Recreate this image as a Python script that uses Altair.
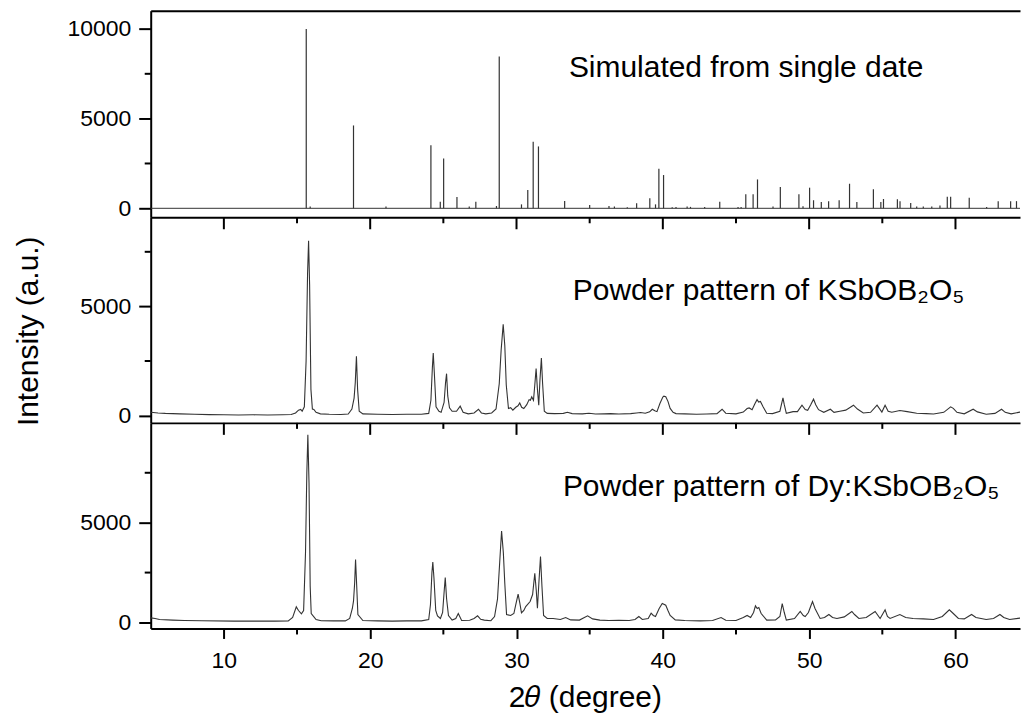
import altair as alt
import pandas as pd

# ---------------- data ----------------
# Simulated pattern: peak positions (2theta) and intensities
sim_pos = [15.63, 15.9, 18.86, 21.08, 24.15, 24.79, 25.02, 25.93, 26.77, 27.22, 28.63, 28.82,
           30.34, 30.77, 31.14, 31.50, 33.29, 35.0, 36.32, 36.69, 37.57, 38.21, 39.11, 39.50,
           39.73, 40.05, 40.64, 40.9, 41.66, 41.89, 42.86, 43.89, 45.14, 45.35, 45.67, 46.17,
           46.47, 47.53, 48.03, 49.3, 49.58, 50.03, 50.30, 50.83, 51.33, 52.05, 52.76, 53.26,
           54.39, 54.90, 55.08, 56.03, 56.21, 56.94, 57.35, 57.80, 58.38, 58.94, 59.44, 59.67,
           60.94, 62.13, 62.92, 63.77, 64.17]
sim_int = [10000, 100, 4620, 100, 3520, 370, 2780, 630, 100, 370, 130, 8470,
           220, 1020, 3710, 3450, 410, 185, 130, 100, 60, 280, 556, 220,
           2210, 1855, 60, 80, 100, 80, 80, 370, 80, 80, 780, 780,
           1610, 100, 1190, 780, 120, 1150, 450, 350, 400, 450, 1370, 350,
           1060, 350, 520, 500, 400, 300, 100, 100, 100, 150, 650, 650,
           590, 80, 400, 400, 400]

# Powder pattern of KSbOB2O5
ksb_x = [5.0, 5.5, 6.0, 7.0, 8.0, 9.0, 10.0, 11.0, 12.0, 13.0, 14.0, 14.6, 14.9, 15.1, 15.25, 15.35,
         15.5, 15.62, 15.72, 15.79, 15.86, 15.95, 16.05, 16.15, 16.3, 16.6, 17.2, 18.0, 18.5, 18.75,
         18.9, 18.98, 19.06, 19.14, 19.25, 19.5, 20.5, 21.5, 22.5, 23.5, 24.0, 24.15, 24.25, 24.31,
         24.38, 24.5, 24.7, 24.85, 25.05, 25.15, 25.22, 25.3, 25.42, 25.6, 25.9, 26.15, 26.35, 26.7,
         27.1, 27.4, 27.6, 27.9, 28.3, 28.6, 28.82, 28.95, 29.09, 29.2, 29.3, 29.45, 29.6, 29.75,
         29.95, 30.1, 30.22, 30.35, 30.5, 30.7, 30.86, 30.95, 31.04, 31.16, 31.25, 31.34, 31.43,
         31.52, 31.6, 31.7, 31.78, 31.9, 32.1, 32.6, 33.2, 33.48, 33.8, 34.5, 34.95, 35.4, 36.0,
         36.43, 37.0, 37.8, 38.2, 38.48, 38.8, 39.1, 39.28, 39.45, 39.6, 39.8, 40.0, 40.07, 40.2,
         40.35, 40.5, 40.7, 40.9, 41.5, 42.3, 43.0, 43.7, 44.05, 44.3, 45.0, 45.5, 45.76, 45.9,
         46.1, 46.3, 46.44, 46.55, 46.67, 46.85, 47.1, 47.5, 48.0, 48.21, 48.3, 48.44, 48.9, 49.2,
         49.51, 49.73, 49.9, 50.1, 50.3, 50.45, 50.64, 51.0, 51.45, 51.7, 52.1, 52.5, 53.03, 53.3,
         53.7, 54.2, 54.64, 54.97, 55.19, 55.4, 55.65, 56.2, 56.7, 57.35, 58.0, 58.5, 59.2, 59.67,
         59.85, 60.1, 60.6, 61.21, 61.5, 62.1, 62.7, 63.15, 63.4, 63.8, 64.4, 64.5]
ksb_y = [155, 120, 100, 80, 60, 45, 35, 30, 35, 30, 40, 50, 120, 250, 280, 200,
         400, 2500, 6500, 8000, 6000, 1200, 300, 280, 150, 80, 60, 50, 70, 300,
         800, 1500, 2714, 1200, 200, 80, 60, 50, 60, 60, 100, 700, 2200, 2865,
         2000, 400, 200, 150, 600, 1500, 1920, 900, 360, 200, 200, 430, 150, 80,
         120, 290, 120, 80, 120, 300, 1460, 3000, 4177, 3200, 1400, 320, 360, 250,
         380, 450, 580, 380, 320, 500, 730, 700, 855, 700, 1400, 2150, 1200,
         475, 1600, 2637, 1500, 200, 100, 90, 100, 150, 90, 80, 110, 70, 80,
         90, 70, 90, 120, 140, 110, 170, 290, 220, 180, 550, 850, 890, 865,
         650, 330, 150, 90, 80, 60, 70, 90, 290, 110, 80, 160, 320, 350,
         270, 550, 730, 620, 650, 400, 110, 90, 200, 810, 500, 100, 180, 180,
         475, 280, 240, 480, 750, 500, 270, 150, 290, 150, 200, 250, 475, 300,
         120, 150, 475, 160, 475, 200, 150, 230, 180, 110, 90, 70, 150, 400,
         330, 150, 80, 290, 170, 60, 100, 290, 150, 80, 160, 170]

# Powder pattern of Dy:KSbOB2O5
dy_x = [5.0, 5.3, 5.6, 6.5, 7.3, 8.5, 10.7, 12.0, 13.5, 14.4, 14.7, 14.95, 15.1, 15.3, 15.45,
        15.58, 15.67, 15.74, 15.82, 15.9, 15.97, 16.1, 16.3, 16.65, 17.5, 18.3, 18.6, 18.78,
        18.86, 18.94, 19.0, 19.08, 19.16, 19.5, 20.5, 21.5, 22.5, 23.5, 24.0, 24.12, 24.22,
        24.28, 24.36, 24.48, 24.6, 24.8, 24.95, 25.06, 25.13, 25.22, 25.35, 25.6, 25.85, 26.02,
        26.25, 26.8, 27.1, 27.34, 27.55, 27.8, 28.25, 28.5, 28.7, 28.85, 28.98, 29.1, 29.2,
        29.32, 29.6, 29.82, 29.95, 30.11, 30.22, 30.34, 30.5, 30.63, 30.93, 31.1, 31.25, 31.35,
        31.43, 31.53, 31.64, 31.74, 31.85, 32.1, 32.5, 33.0, 33.36, 33.7, 34.3, 34.86, 35.2,
        35.7, 36.3, 37.0, 37.7, 38.1, 38.36, 38.6, 39.0, 39.2, 39.35, 39.5, 39.75, 39.96, 40.2,
        40.35, 40.5, 40.85, 41.5, 42.56, 43.4, 43.98, 44.3, 45.0, 45.5, 45.76, 46.0, 46.2,
        46.33, 46.45, 46.56, 46.72, 47.1, 47.7, 48.0, 48.16, 48.3, 48.44, 49.0, 49.39, 49.6,
        49.73, 49.95, 50.1, 50.23, 50.4, 50.75, 51.05, 51.35, 51.6, 51.9, 52.4, 52.92, 53.1,
        53.4, 53.9, 54.51, 54.85, 55.19, 55.35, 55.53, 56.2, 56.6, 57.1, 57.8, 58.5, 59.1,
        59.58, 59.85, 60.2, 60.6, 61.1, 61.4, 62.1, 62.6, 63.04, 63.3, 63.7, 64.4, 64.5]
dy_y = [233, 200, 150, 120, 100, 85, 70, 70, 70, 80, 250, 783, 600, 433, 600,
        3500, 7500, 9400, 7000, 1800, 450, 327, 150, 90, 80, 80, 200, 700,
        1067, 2000, 3150, 1800, 400, 100, 80, 70, 80, 80, 150, 900, 2500,
        3033, 2200, 600, 333, 200, 500, 1600, 2250, 1200, 350, 120, 200, 450,
        100, 110, 200, 333, 160, 120, 90, 300, 1167, 3000, 4583, 3500, 1950,
        400, 350, 450, 900, 1417, 1000, 483, 600, 800, 1050, 1400, 2467, 1600,
        717, 2000, 3300, 1800, 350, 200, 200, 150, 250, 130, 120, 333, 180,
        120, 100, 110, 100, 150, 300, 150, 200, 467, 350, 300, 700, 950, 867,
        600, 350, 130, 100, 80, 100, 250, 110, 100, 250, 350, 250, 500,
        833, 700, 750, 450, 120, 130, 300, 950, 500, 120, 200, 550, 350,
        300, 500, 800, 1050, 700, 200, 250, 400, 250, 200, 280, 550, 400,
        200, 250, 550, 200, 633, 300, 200, 400, 250, 200, 180, 150, 300,
        633, 450, 200, 180, 400, 250, 150, 200, 400, 250, 150, 220, 230]

panel_labels = ["Simulated from single date",
                "Powder pattern of KSbOB\u2082O\u2085",
                "Powder pattern of Dy:KSbOB\u2082O\u2085"]
label_x = [33.58, 33.85, 33.17]
label_y = [7347, 5288, 6350]

x_major = [10, 20, 30, 40, 50, 60]
x_minor = [15, 25, 35, 45, 55]
y_major_top = [0, 5000, 10000]
y_major = [0, 5000]
y_minor = [2500, 7500]

# ---------------- styling ----------------
FONT = "Liberation Sans"
LINE = "#333333"
W = 871
H1, H2, H3 = 207, 206, 206
X_DOMAIN = [5, 64.41]
xscale = alt.Scale(domain=X_DOMAIN, nice=False, zero=False)

# inner panel edges: domain line only; their ticks are drawn inside the panel below
x_axis_inner = alt.Axis(values=x_major, ticks=False, labels=False, title=None)
x_axis_bottom = alt.Axis(
    values=x_major, tickSize=10, format="d", labelPadding=11, labelOverlap=False,
    title="2\U0001D703 (degree)", titleX=435, titleY=69,
    titleAlign="center", titleBaseline="middle")
x_axis_top = alt.Axis(orient="top", ticks=False, labels=False, title=None, domain=True)


def y_axis(values, title=None, **kw):
    return alt.Axis(values=values, format="d", tickSize=12, title=title, **kw)


y_axis1 = y_axis(y_major_top)
y_axis2 = y_axis(y_major, title="Intensity (a.u.)", titleX=-122.5, titleY=113.7,
                 titleAngle=270, titleAlign="center", titleBaseline="middle")
y_axis3 = y_axis(y_major)

sim_df = pd.DataFrame({"x": sim_pos, "y": sim_int})
ksb_df = pd.DataFrame({"x": ksb_x, "y": ksb_y})
dy_df = pd.DataFrame({"x": dy_x, "y": dy_y})
zero_df = pd.DataFrame({"y": [0]})
xmajor_df = pd.DataFrame({"x": x_major})
xminor_df = pd.DataFrame({"x": x_minor})
yminor_df = pd.DataFrame({"y": y_minor})


def label_df(i):
    return pd.DataFrame({"x": [label_x[i]], "y": [label_y[i]], "t": [panel_labels[i]]})


def text_layer(i, yscale, xaxis, yaxis):
    return alt.Chart(label_df(i)).mark_text(
        align="left", baseline="alphabetic", font=FONT, fontSize=30, color="black"
    ).encode(
        x=alt.X("x:Q", scale=xscale, axis=xaxis),
        y=alt.Y("y:Q", scale=yscale, axis=yaxis),
        text="t:N",
    )


def x_ticks_rule(df, y0, y1, xaxis):
    # short vertical tick marks at the given x positions
    return alt.Chart(df).mark_rule(color="black", strokeWidth=2).encode(
        x=alt.X("x:Q", scale=xscale, axis=xaxis),
        y=alt.value(y0), y2=alt.value(y1),
    )


def minor_y(yscale, yaxis):
    # short ticks at the minor y positions, left of the panel
    return alt.Chart(yminor_df).mark_rule(color="black", strokeWidth=2).encode(
        y=alt.Y("y:Q", scale=yscale, axis=yaxis),
        x=alt.value(-6), x2=alt.value(0),
    )


# Panel 1: simulated sticks (x axes resolved independently: bottom edge + top border)
ys1 = alt.Scale(domain=[-500, 11020], nice=False, zero=False)
sticks = alt.Chart(sim_df).mark_rule(color=LINE, strokeWidth=1.2).encode(
    x=alt.X("x:Q", scale=xscale, axis=x_axis_inner),
    y=alt.Y("y:Q", scale=ys1, axis=y_axis1),
    y2=alt.datum(0),
)
base1 = alt.Chart(zero_df).mark_rule(color=LINE, strokeWidth=1).encode(
    y=alt.Y("y:Q", scale=ys1, axis=y_axis1)
)
p1 = alt.layer(
    sticks, base1, minor_y(ys1, y_axis1),
    text_layer(0, ys1, x_axis_top, y_axis1)
).resolve_axis(x="independent").properties(width=W, height=H1)

# Panel 2 (ticks hanging from its top edge)
ys2 = alt.Scale(domain=[-334, 9081], nice=False, zero=False)
line2 = alt.Chart(ksb_df).mark_line(color=LINE, strokeWidth=1.1, clip=True).encode(
    x=alt.X("x:Q", scale=xscale, axis=x_axis_inner),
    y=alt.Y("y:Q", scale=ys2, axis=y_axis2),
)
p2 = alt.layer(
    line2,
    x_ticks_rule(xmajor_df, 0, 12, x_axis_inner),
    x_ticks_rule(xminor_df, 0, 6, x_axis_inner),
    minor_y(ys2, y_axis2),
    text_layer(1, ys2, x_axis_inner, y_axis2)
).properties(width=W, height=H2)

# Panel 3 (ticks hanging from its top edge, labelled axis at the bottom)
ys3 = alt.Scale(domain=[-300, 10000], nice=False, zero=False)
line3 = alt.Chart(dy_df).mark_line(color=LINE, strokeWidth=1.1, clip=True).encode(
    x=alt.X("x:Q", scale=xscale, axis=x_axis_bottom),
    y=alt.Y("y:Q", scale=ys3, axis=y_axis3),
)
p3 = alt.layer(
    line3,
    x_ticks_rule(xmajor_df, 0, 12, x_axis_bottom),
    x_ticks_rule(xminor_df, 0, 6, x_axis_bottom),
    x_ticks_rule(xminor_df, H3, H3 + 6, x_axis_bottom),
    minor_y(ys3, y_axis3),
    text_layer(2, ys3, x_axis_bottom, y_axis3)
).properties(width=W, height=H3)

chart = alt.vconcat(p1, p2, p3, spacing=0, bounds="flush").properties(
    padding={"left": 13, "top": 10, "right": 0, "bottom": 5}
).configure_view(stroke=None).configure_axis(
    labelFont=FONT, labelFontSize=23, labelColor="black", labelPadding=8,
    titleFont=FONT, titleFontSize=30, titleFontWeight="normal", titleColor="black",
    domainColor="black", domainWidth=2, tickColor="black", tickWidth=2, grid=False,
)

chart.save("out.html", embed_options={"renderer": "svg", "actions": False})
